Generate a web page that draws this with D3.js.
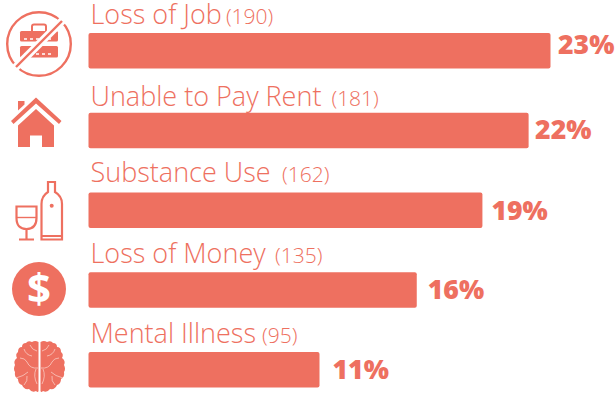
<!DOCTYPE html>
<html lang="en">
<head>
    <script src="https://d3js.org/d3.v7.min.js"></script>
    <style>
        html, body { margin: 0; padding: 0; background: #fff; }
        text { font-family: "Open Sans", sans-serif; fill: #ee7060; }
        .label { font-size: 27px; font-weight: 300; }
        .count { font-size: 21px; font-weight: 300; }
        .pct { font-size: 26.6px; font-weight: 800; }
    </style>
</head>
<body>
    <div id="chart"></div>
    <script>
        // Data
        const categories = ['Loss of Job', 'Unable to Pay Rent', 'Substance Use', 'Loss of Money', 'Mental Illness'];
        const counts = [190, 181, 162, 135, 95];
        const percents = ['23%', '22%', '19%', '16%', '11%'];

        const color = '#ee7060';
        const width = 616, height = 394;

        // The original was hand placed, so these nudges differ per row
        const countGaps = [4, 10, 11.5, 9.5, 6];
        const labelOffsets = [-9, -7, -10.5, -9, -9];
        const pctGaps = [7.5, 6.5, 9, 11, 13];
        const pctOffsets = [21, 26, 27.5, 27, 27];

        const svg = d3.select('#chart').append('svg')
            .attr('width', width)
            .attr('height', height)
            .style('display', 'block');

        const x = d3.scaleLinear().domain([0, 190]).range([88.5, 550.5]);
        const y = d3.scaleBand().domain(categories).range([33, 387.5]).paddingInner(0.555);

        const rows = svg.selectAll('g.row')
            .data(categories)
            .enter().append('g')
            .attr('class', 'row');

        rows.append('rect')
            .attr('x', x(0))
            .attr('y', d => y(d))
            .attr('width', (d, i) => x(counts[i]) - x(0))
            .attr('height', y.bandwidth())
            .attr('rx', 2)
            .attr('fill', color);

        const labels = rows.append('text')
            .attr('x', 90.5)
            .attr('y', (d, i) => y(d) + labelOffsets[i]);
        labels.append('tspan').attr('class', 'label').text(d => d);
        labels.append('tspan').attr('class', 'count')
            .attr('dx', (d, i) => countGaps[i])
            .text((d, i) => '(' + counts[i] + ')');

        rows.append('text')
            .attr('class', 'pct')
            .attr('x', (d, i) => x(counts[i]) + pctGaps[i])
            .attr('y', (d, i) => y(d) + pctOffsets[i])
            .text((d, i) => percents[i]);

        // Icons
        const icons = svg.append('g').attr('fill', color);

        // briefcase with a slash
        const job = icons.append('g').attr('transform', 'translate(39,44)');
        job.append('circle').attr('r', 31.8).attr('fill', 'none').attr('stroke', color).attr('stroke-width', 2.4);
        job.append('path').attr('fill', 'none').attr('stroke', color).attr('stroke-width', 2)
            .attr('d', 'M-7,-13V-17.5Q-7,-19.5 -5,-19.5H5Q7,-19.5 7,-17.5V-13');
        job.append('rect').attr('x', -19).attr('y', -13).attr('width', 38).attr('height', 10.5).attr('rx', 1.5);
        job.append('rect').attr('x', -19).attr('y', 2).attr('width', 38).attr('height', 11.5).attr('rx', 1.5);
        job.append('path').attr('stroke', '#fff').attr('stroke-width', 1.5).attr('stroke-dasharray', '3 3')
            .attr('fill', 'none').attr('d', 'M-15,-5H15M-15,10H15');
        job.append('line').attr('x1', -27).attr('y1', 27).attr('x2', 27).attr('y2', -27)
            .attr('stroke', '#fff').attr('stroke-width', 8);
        job.append('line').attr('x1', -23).attr('y1', 23).attr('x2', 23).attr('y2', -23)
            .attr('stroke', color).attr('stroke-width', 2.4);

        // house
        icons.append('path').attr('d',
            'M11,121L36,97.5L61.5,121L59,124L36,103.5L13.5,124Z M18,110.5V101H24.5V104.5Z ' +
            'M18,125.5L36,109L54,125.5V147H42V135.5H30V147H18Z');

        // wine glass and bottle
        const wine = icons.append('g').attr('fill', 'none').attr('stroke', color).attr('stroke-width', 2.2);
        wine.append('path').attr('d', 'M16.5,206.5H36.5V218Q36.5,229 26.5,229Q16.5,229 16.5,218Z M26.5,229V239 M19,239.5H34');
        wine.append('path').attr('d', 'M16.5,217.5H36.5').attr('stroke-width', 1.4);
        wine.append('path').attr('d',
            'M48,182H55V192Q62,196 62,204V239.5H41.5V204Q41.5,196 48,192Z M42,236H61');
        icons.append('circle').attr('cx', 51.7).attr('cy', 205.7).attr('r', 2);

        // dollar coin
        icons.append('circle').attr('cx', 39).attr('cy', 289).attr('r', 27);
        icons.append('text')
            .attr('x', 39).attr('y', 303)
            .attr('text-anchor', 'middle')
            .style('font-size', '42px').style('font-weight', '700').style('fill', '#fff')
            .text('$');

        // brain
        const brain = icons.append('g');
        brain.append('path').attr('d',
            'M38.5,342Q35,340 32,342Q28,340 26,343Q22,343 22,347Q18,347 18,352Q15,354 17,358Q13,361 15,365Q13,369 15,372' +
            'Q14,377 18,379Q18,384 22,385Q24,390 29,389Q32,393 36,391Q38,393 38.5,391Z');
        brain.append('path').attr('d',
            'M40.5,342Q44,340 47,342Q51,340 53,343Q57,343 57,347Q61,347 61,352Q64,354 62,358Q66,361 64,365Q66,369 64,372' +
            'Q65,377 61,379Q61,384 57,385Q55,390 50,389Q47,393 43,391Q41,393 40.5,391Z');
        brain.append('path').attr('fill', 'none').attr('stroke', '#fbd5cf').attr('stroke-width', 0.7)
            .attr('d',
                'M38,368Q30,369 27,362Q25,358 20,358 M24,349Q26,355 32,356 M37,351Q32,350 30,345 M16,378Q24,376 28,372 M36,369Q33,376 37,384 M24,385Q28,381 27,376 ' +
                'M41,368Q49,369 52,362Q54,358 59,358 M55,349Q53,355 47,356 M42,351Q47,350 49,345 M63,378Q55,376 51,372 M43,369Q46,376 42,384 M55,385Q51,381 52,376');
    </script>
</body>
</html>
